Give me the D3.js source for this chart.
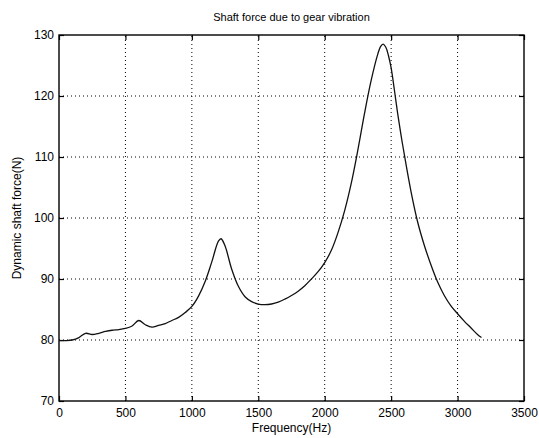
<!DOCTYPE html>
<html><head><meta charset="utf-8">
<script src="https://cdn.jsdelivr.net/npm/d3@7"></script>
<style>body{margin:0;background:#fff}svg{display:block}</style>
</head><body><div id="c"></div>
<script>
const freq = [0,50,100,150,200,250,300,350,400,450,500,550,600,650,700,750,800,850,900,950,1000,1050,1100,1150,1200,1220,1250,1300,1350,1400,1450,1500,1550,1600,1650,1700,1750,1800,1850,1900,1950,2000,2050,2100,2150,2200,2250,2300,2350,2400,2420,2440,2460,2480,2500,2525,2550,2575,2600,2650,2700,2750,2800,2850,2900,2950,3000,3050,3100,3150,3180];
const force = [79.9,79.9,80.0,80.4,81.1,80.9,81.1,81.4,81.6,81.7,81.9,82.3,83.2,82.5,82.1,82.4,82.7,83.2,83.7,84.5,85.5,87.2,89.6,92.8,96.2,96.6,95.4,91.6,88.8,87.1,86.3,85.9,85.8,85.9,86.2,86.7,87.3,88.0,88.9,90.0,91.2,92.7,94.7,97.6,101.2,105.7,111.2,117.2,122.6,126.9,128.1,128.5,128.0,126.6,124.6,120.9,117.0,113.5,110.3,104.3,99.3,95.5,92.3,89.5,87.3,85.6,84.3,83.1,82.0,80.9,80.4];
const xTicks = [0,500,1000,1500,2000,2500,3000,3500];
const yTicks = [70,80,90,100,110,120,130];
const title = "Shaft force due to gear vibration";
const xLabel = "Frequency(Hz)";
const yLabel = "Dynamic shaft force(N)";

const W = 539, H = 438;
const m = {l:59, r:15, t:35, b:37};
const svg = d3.select("#c").append("svg").attr("width", W).attr("height", H)
  .style("font-family", "'Liberation Sans', Arial, sans-serif");
const x = d3.scaleLinear().domain([0,3500]).range([m.l, W - m.r]);
const y = d3.scaleLinear().domain([70,130]).range([H - m.b, m.t]);

// grid
const g = svg.append("g");
g.selectAll(".gx").data(xTicks.slice(1,-1)).enter().append("line")
  .attr("x1", d=>x(d)).attr("x2", d=>x(d)).attr("y1", y(70)).attr("y2", y(130))
  .attr("stroke","#000").attr("stroke-width",1).attr("stroke-dasharray","1,3");
g.selectAll(".gy").data(yTicks.slice(1,-1)).enter().append("line")
  .attr("y1", d=>y(d)).attr("y2", d=>y(d)).attr("x1", x(0)).attr("x2", x(3500))
  .attr("stroke","#000").attr("stroke-width",1).attr("stroke-dasharray","1,3");

// axes
const ax = d3.axisBottom(x).tickValues(xTicks).tickSize(-5).tickPadding(7).tickFormat(d3.format("d"));
const ay = d3.axisLeft(y).tickValues(yTicks).tickSize(-5).tickPadding(5).tickFormat(d3.format("d"));
const axT = d3.axisTop(x).tickValues(xTicks).tickSize(-5).tickFormat("");
const ayR = d3.axisRight(y).tickValues(yTicks).tickSize(-5).tickFormat("");
function style(sel){ sel.selectAll("path,line").attr("stroke","#000").attr("stroke-width",1.2);
  sel.selectAll("text").attr("fill","#000").style("font-size","12px"); sel.select(".domain").remove(); }
svg.append("g").attr("transform",`translate(0,${y(70)})`).call(ax).call(style);
svg.append("g").attr("transform",`translate(${x(0)},0)`).call(ay).call(style);
svg.append("g").attr("transform",`translate(0,${y(130)})`).call(axT).call(style);
svg.append("g").attr("transform",`translate(${x(3500)},0)`).call(ayR).call(style);
svg.append("rect").attr("x", x(0)).attr("y", y(130)).attr("width", x(3500)-x(0)).attr("height", y(70)-y(130))
  .attr("fill","none").attr("stroke","#000").attr("stroke-width",1.4);

// curve
const pts = freq.map((f,i)=>[f, force[i]]);
svg.append("path").datum(pts)
  .attr("d", d3.line().x(d=>x(d[0])).y(d=>y(d[1])).curve(d3.curveCatmullRom.alpha(0.5)))
  .attr("fill","none").attr("stroke","#111").attr("stroke-width",1.3);

svg.append("text").attr("x", (x(0)+x(3500))/2).attr("y", 21).attr("text-anchor","middle")
  .style("font-size","11px").text(title);
svg.append("text").attr("x", (x(0)+x(3500))/2).attr("y", 432).attr("text-anchor","middle")
  .style("font-size","12px").text(xLabel);
svg.append("text").attr("transform",`translate(21,${(y(70)+y(130))/2}) rotate(-90)`).attr("text-anchor","middle")
  .style("font-size","12px").text(yLabel);
</script></body></html>
